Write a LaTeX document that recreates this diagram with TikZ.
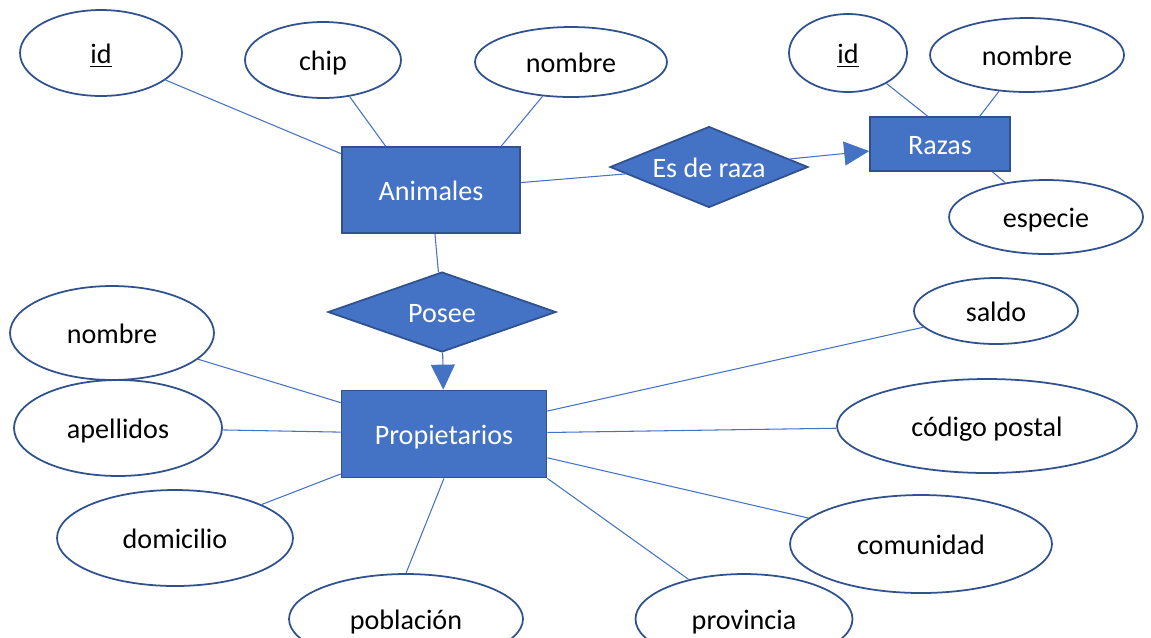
\documentclass[tikz,border=0pt]{standalone}
\usepackage{fontspec}
\setmainfont{Carlito}
\usepackage{tikz}
\usetikzlibrary{arrows.meta}
\usetikzlibrary{shapes.geometric}
\definecolor{erfill}{HTML}{4472C4}
\definecolor{erdraw}{HTML}{2F528F}

\begin{document}
\begin{tikzpicture}[
		x=0.02cm, y=-0.02cm,
		every node/.style={font=\fontsize{16}{19}\selectfont, text height=12pt, text depth=0pt},
		attr/.style={ellipse, draw=erdraw, line width=1pt, fill=white, inner sep=0pt},
		entity/.style={rectangle, draw=erdraw, line width=1pt, fill=erfill, text=white, inner sep=0pt},
		rel/.style={diamond, draw=erdraw, line width=1pt, fill=erfill, text=white, inner sep=0pt},
		link/.style={draw=erfill, line width=0.6pt},
		arrow/.style={link, -{Triangle[length=0.5cm, width=0.48cm]}}
	]

	\useasboundingbox (0,0) rectangle (1151,637);

	% Entities
	\node[entity, minimum width=3.56cm, minimum height=1.72cm] (animales) at (431,190) {Animales};
	\node[entity, minimum width=2.80cm, minimum height=1.08cm] (razas) at (940,144) {Razas};
	\node[entity, minimum width=4.10cm, minimum height=1.74cm] (prop) at (444,434) {Propietarios};

	% Relations
	\node[rel, aspect=2.45, inner xsep=-0.1cm, minimum width=3.96cm, minimum height=1.62cm] (esraza) at (709,167) {Es de raza};
	\node[rel, aspect=2.85, minimum width=4.56cm, minimum height=1.60cm] (posee) at (442,312) {Posee};

	% Attributes of Animales
	\node[attr, minimum width=3.24cm, minimum height=1.72cm] (idA) at (101,53) {\underline{id}};
	\node[attr, minimum width=3.12cm, minimum height=1.52cm] (chip) at (323,60) {chip};
	\node[attr, minimum width=3.84cm, minimum height=1.40cm] (nombreA) at (571,62) {nombre};

	% Attributes of Razas
	\node[attr, minimum width=2.36cm, minimum height=1.56cm] (idR) at (848,53) {\underline{id}};
	\node[attr, minimum width=3.88cm, minimum height=1.48cm] (nombreR) at (1027,55) {nombre};
	\node[attr, minimum width=3.88cm, minimum height=1.48cm] (especie) at (1046,217) {especie};

	% Attributes of Propietarios
	\node[attr, minimum width=4.08cm, minimum height=1.88cm] (nombreP) at (112,333) {nombre};
	\node[attr, minimum width=4.16cm, minimum height=1.92cm] (apellidos) at (118,428) {apellidos};
	\node[attr, minimum width=4.72cm, minimum height=1.92cm] (domicilio) at (175,538) {domicilio};
	\node[attr, minimum width=4.68cm, minimum height=1.80cm] (poblacion) at (406,619) {población};
	\node[attr, minimum width=4.34cm, minimum height=1.80cm] (provincia) at (744,619) {provincia};
	\node[attr, minimum width=5.24cm, minimum height=1.96cm] (comunidad) at (921,544) {comunidad};
	\node[attr, minimum width=6.00cm, minimum height=1.88cm] (cpostal) at (987,426) {código postal};
	\node[attr, minimum width=3.28cm, minimum height=1.32cm] (saldo) at (996,311) {saldo};

	% Attribute links
	\draw[link] (idA) -- (animales.158);
	\draw[link] (chip) -- (animales.136);
	\draw[link] (nombreA) -- (animales.32);
	\draw[link] (idR) -- (razas.114);
	\draw[link] (nombreR) -- (razas.35);
	\draw[link] (especie) -- (razas.-28);
	\draw[link] (poblacion.north) -- (prop.south);
	\draw[link] (provincia) -- (prop.south east);
	\foreach \a in {nombreP,apellidos,domicilio,comunidad,cpostal,saldo}
	\draw[link] (\a) -- (prop);

	% Relationship links
	\draw[link] (animales) -- (esraza);
	\draw[arrow] (esraza) -- (razas);
	\draw[link] (animales) -- (posee);
	\draw[arrow] (posee) -- (prop);

\end{tikzpicture}
\end{document}
